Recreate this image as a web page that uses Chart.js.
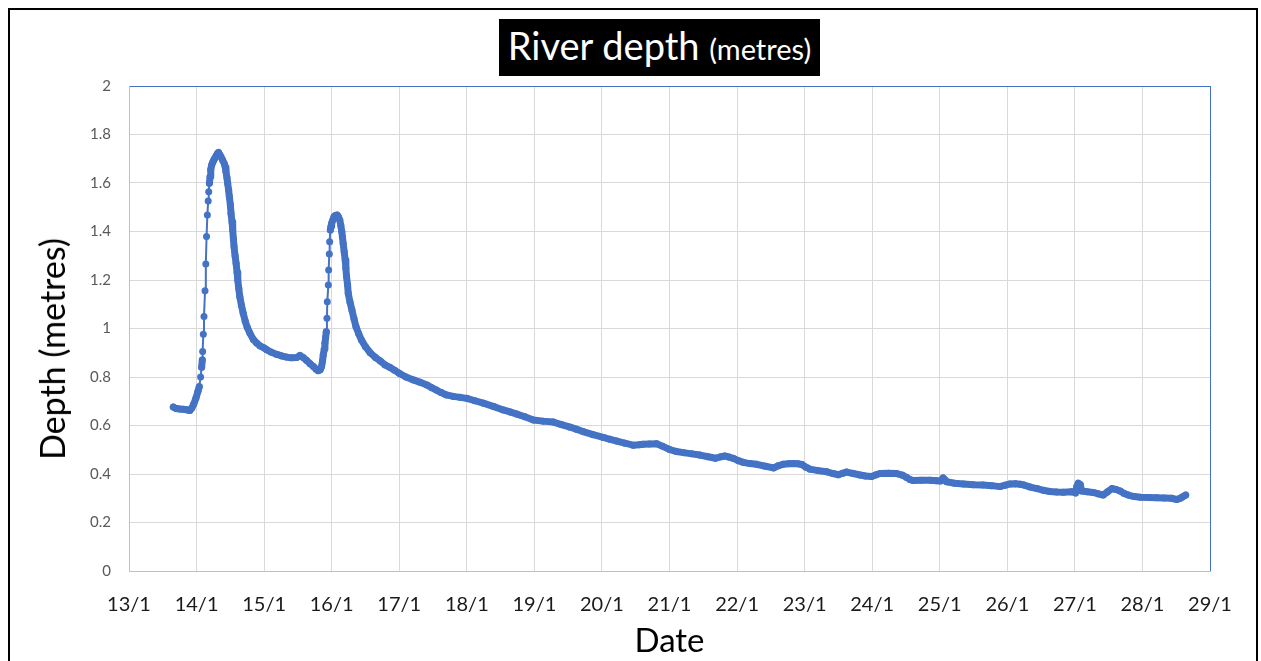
<!DOCTYPE html>
<html>
<head>
<meta charset="utf-8">
<script src="https://cdn.jsdelivr.net/npm/chart.js@4.4.1/dist/chart.umd.min.js"></script>
<style>
    html, body { margin: 0; padding: 0; background: #fff; overflow: hidden; }
    body { width: 1261px; height: 661px; position: relative; font-family: Lato, sans-serif; }
    #chart { position: absolute; left: 0; top: 0; }
    .frame { position: absolute; left: 8px; top: 8px; width: 1246px; height: 700px; border: 2px solid #000; pointer-events: none; }
    .title { position: absolute; left: 499px; top: 19px; width: 321px; height: 57px; background: #000; color: #fff;
             text-align: center; line-height: 52px; font-size: 38px; white-space: nowrap; }
    .title small { font-size: 29px; }
    .ytitle { position: absolute; left: 52px; top: 349px; transform: translate(-50%, -50%) rotate(-90deg);
              font-size: 34px; line-height: 1; white-space: nowrap; color: #000; }
</style>
</head>
<body>
<canvas id="chart" width="1261" height="661"></canvas>
<div class="frame"></div>
<div class="title">River depth <small>(metres)</small></div>
<div class="ytitle">Depth (metres)</div>
<script>
// day of January (fractional) and river depth in metres
const dayTimes = [
    13.656, 13.70, 13.75, 13.80, 13.85, 13.90, 13.93, 13.96, 13.99, 14.02,
    14.04, 14.06, 14.075, 14.085, 14.09, 14.10, 14.11, 14.125, 14.137, 14.148,
    14.16, 14.172, 14.18, 14.19, 14.20, 14.21, 14.225, 14.24, 14.255, 14.27,
    14.29, 14.31, 14.325, 14.34, 14.36, 14.385, 14.41, 14.425, 14.435, 14.45,
    14.46, 14.475, 14.485, 14.50, 14.51, 14.525, 14.535, 14.545, 14.555, 14.57,
    14.585, 14.60, 14.61, 14.625, 14.64, 14.665, 14.69, 14.72, 14.75, 14.79,
    14.84, 14.89, 14.94, 15.00, 15.04, 15.10, 15.19, 15.26, 15.33, 15.40,
    15.48, 15.53, 15.58, 15.63, 15.68, 15.73, 15.77, 15.80, 15.83, 15.85,
    15.865, 15.875, 15.89, 15.90, 15.91, 15.92, 15.93, 15.935, 15.95, 15.955,
    15.965, 15.97, 15.98, 15.99, 16.00, 16.02, 16.035, 16.055, 16.08, 16.10,
    16.12, 16.135, 16.15, 16.16, 16.17, 16.185, 16.20, 16.21, 16.22, 16.235,
    16.245, 16.27, 16.30, 16.33, 16.36, 16.40, 16.44, 16.50, 16.57, 16.65,
    16.72, 16.79, 16.86, 16.93, 17.00, 17.10, 17.21, 17.31, 17.41, 17.48,
    17.55, 17.62, 17.70, 17.80, 17.90, 18.00, 18.12, 18.245, 18.40, 18.54,
    18.64, 18.74, 18.86, 18.985, 19.13, 19.28, 19.40, 19.53, 19.62, 19.72,
    19.87, 20.02, 20.12, 20.22, 20.34, 20.46, 20.55, 20.61, 20.70, 20.81,
    20.90, 21.01, 21.10, 21.21, 21.33, 21.45, 21.57, 21.68, 21.76, 21.82,
    21.88, 21.94, 22.02, 22.09, 22.19, 22.29, 22.42, 22.54, 22.61, 22.68,
    22.76, 22.83, 22.90, 22.96, 23.02, 23.08, 23.20, 23.33, 23.42, 23.50,
    23.56, 23.62, 23.72, 23.82, 23.90, 23.99, 24.05, 24.12, 24.24, 24.36,
    24.45, 24.51, 24.56, 24.61, 24.73, 24.86, 24.95, 25.01, 25.05, 25.08,
    25.10, 25.22, 25.35, 25.50, 25.64, 25.77, 25.89, 25.97, 26.04, 26.12,
    26.19, 26.24, 26.34, 26.44, 26.53, 26.63, 26.73, 26.83, 26.95, 27.01,
    27.03, 27.05, 27.08, 27.10, 27.18, 27.27, 27.35, 27.42, 27.48, 27.55,
    27.61, 27.67, 27.73, 27.79, 27.88, 27.97, 28.09, 28.21, 28.32, 28.43,
    28.51, 28.56, 28.59, 28.64
];

const depthMetres = [
    0.676, 0.670, 0.668, 0.667, 0.665, 0.662, 0.672, 0.690, 0.712, 0.740,
    0.760, 0.800, 0.840, 0.870, 0.905, 0.976, 1.050, 1.156, 1.266, 1.379,
    1.468, 1.526, 1.564, 1.599, 1.626, 1.656, 1.675, 1.686, 1.695, 1.702,
    1.712, 1.722, 1.726, 1.718, 1.709, 1.695, 1.680, 1.665, 1.647, 1.622,
    1.599, 1.570, 1.544, 1.510, 1.475, 1.440, 1.406, 1.370, 1.337, 1.300,
    1.269, 1.232, 1.200, 1.165, 1.131, 1.095, 1.063, 1.030, 1.005, 0.980,
    0.955, 0.940, 0.928, 0.920, 0.912, 0.903, 0.893, 0.887, 0.882, 0.879,
    0.880, 0.889, 0.880, 0.868, 0.855, 0.843, 0.832, 0.826, 0.830, 0.843,
    0.866, 0.891, 0.915, 0.939, 0.962, 0.987, 1.042, 1.110, 1.179, 1.241,
    1.307, 1.358, 1.406, 1.422, 1.434, 1.450, 1.461, 1.466, 1.468, 1.460,
    1.447, 1.425, 1.399, 1.375, 1.351, 1.316, 1.282, 1.248, 1.214, 1.180,
    1.145, 1.110, 1.076, 1.040, 1.007, 0.978, 0.953, 0.925, 0.900, 0.880,
    0.866, 0.850, 0.840, 0.828, 0.815, 0.800, 0.788, 0.778, 0.767, 0.756,
    0.746, 0.736, 0.726, 0.720, 0.716, 0.712, 0.702, 0.692, 0.678, 0.664,
    0.656, 0.647, 0.636, 0.623, 0.618, 0.614, 0.604, 0.593, 0.585, 0.575,
    0.562, 0.551, 0.543, 0.536, 0.527, 0.519, 0.521, 0.523, 0.524, 0.525,
    0.514, 0.500, 0.493, 0.488, 0.483, 0.478, 0.471, 0.465, 0.471, 0.474,
    0.470, 0.465, 0.455, 0.448, 0.443, 0.440, 0.432, 0.425, 0.434, 0.440,
    0.442, 0.443, 0.442, 0.439, 0.428, 0.420, 0.414, 0.409, 0.402, 0.397,
    0.403, 0.408, 0.402, 0.396, 0.392, 0.390, 0.396, 0.402, 0.403, 0.402,
    0.395, 0.386, 0.377, 0.373, 0.374, 0.374, 0.372, 0.371, 0.384, 0.375,
    0.368, 0.362, 0.359, 0.356, 0.355, 0.352, 0.348, 0.354, 0.359, 0.360,
    0.358, 0.355, 0.346, 0.340, 0.333, 0.328, 0.326, 0.325, 0.327, 0.322,
    0.350, 0.362, 0.357, 0.330, 0.327, 0.324, 0.318, 0.313, 0.326, 0.340,
    0.336, 0.330, 0.320, 0.313, 0.307, 0.304, 0.303, 0.302, 0.301, 0.300,
    0.295, 0.300, 0.305, 0.313
];

const xRange = [13, 29];
const yRange = [0, 2];

const lineBlue = '#4472C4';
const gridGrey = '#d9d9d9';

const points = dayTimes.map((d, i) => ({ x: d, y: depthMetres[i] }));

// the fast rises show a thin line between separate dots, elsewhere the dots merge into a band
function segWidth(ctx) {
    return (ctx.p0.y - ctx.p1.y) > 8 ? 2 : 7;
}

new Chart(document.getElementById('chart'), {
    type: 'scatter',
    data: {
        datasets: [{
            data: points,
            showLine: true,
            borderColor: lineBlue,
            borderWidth: 2,
            borderJoinStyle: 'round',
            borderCapStyle: 'round',
            backgroundColor: lineBlue,
            pointRadius: 3.5,
            pointBorderWidth: 0,
            pointBackgroundColor: lineBlue,
            segment: { borderWidth: segWidth }
        }]
    },
    options: {
        responsive: false,
        animation: false,
        layout: { padding: { left: 0, top: 86, right: 51, bottom: 0 } },
        plugins: { legend: { display: false }, tooltip: { enabled: false } },
        scales: {
            x: {
                type: 'linear',
                min: xRange[0],
                max: xRange[1],
                afterFit: s => { s.height = 90; },
                ticks: {
                    stepSize: 1,
                    padding: 22,
                    color: '#1a1a1a',
                    font: { family: 'Lato', size: 20 },
                    callback: v => v + '/1'
                },
                grid: {
                    drawTicks: false,
                    color: c => (c.tick && c.tick.value === xRange[1]) ? lineBlue : gridGrey
                },
                border: { color: '#bfbfbf' },
                title: {
                    display: true,
                    text: 'Date',
                    color: '#000',
                    font: { family: 'Lato', size: 33 },
                    padding: { top: 0, bottom: 0 }
                }
            },
            y: {
                min: yRange[0],
                max: yRange[1],
                afterFit: s => { s.width = 129; },
                ticks: {
                    stepSize: 0.2,
                    padding: 18,
                    color: '#595959',
                    font: { family: 'Lato', size: 15 },
                    callback: v => String(parseFloat(v.toFixed(1)))
                },
                grid: {
                    drawTicks: false,
                    color: c => (c.tick && c.tick.value === yRange[1]) ? lineBlue : gridGrey
                },
                border: { color: '#bfbfbf' }
            }
        }
    }
});
</script>
</body>
</html>
